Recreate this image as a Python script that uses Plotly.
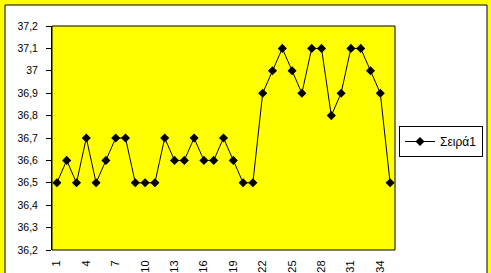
import plotly.graph_objects as go

days = list(range(1, 36))
temps = [36.5, 36.6, 36.5, 36.7, 36.5, 36.6, 36.7, 36.7, 36.5, 36.5,
         36.5, 36.7, 36.6, 36.6, 36.7, 36.6, 36.6, 36.7, 36.6, 36.5,
         36.5, 36.9, 37.0, 37.1, 37.0, 36.9, 37.1, 37.1, 36.8, 36.9,
         37.1, 37.1, 37.0, 36.9, 36.5]
series_name = "Σειρά1"
y_ticks = [36.2, 36.3, 36.4, 36.5, 36.6, 36.7, 36.8, 36.9, 37.0, 37.1, 37.2]
y_tick_text = ["36,2", "36,3", "36,4", "36,5", "36,6", "36,7", "36,8", "36,9", "37", "37,1", "37,2"]
x_label_vals = list(range(1, 36, 3))
x_label_text = [str(v) for v in x_label_vals]
x_boundaries = [i + 0.5 for i in range(0, 36)]

W, H = 491, 273
L, R, T, B = 52, 395, 26, 250
pw, ph = R - L, B - T

def px(x):
    return (x - L) / pw

def py(y):
    return (B - y) / ph

FONT = "Liberation Sans, Arial, sans-serif"

fig = go.Figure()
fig.add_trace(go.Scatter(
    x=days, y=temps, mode="lines+markers", name=series_name,
    line=dict(color="black", width=1),
    marker=dict(symbol="diamond", size=7, color="black"),
    xaxis="x2",
))

fig.update_layout(
    width=W, height=H,
    margin=dict(l=L, r=W - R, t=T, b=H - B, pad=0, autoexpand=False),
    paper_bgcolor="#FFFF00",
    plot_bgcolor="#FFFF00",
    font=dict(family=FONT, size=10, color="black"),
    showlegend=True,
    legend=dict(
        x=px(483), y=py(126), xanchor="right", yanchor="top",
        bgcolor="white", bordercolor="black", borderwidth=1,
        font=dict(size=12, family=FONT),
        itemwidth=30, tracegroupgap=0,
    ),
    xaxis=dict(
        range=[0.5, 35.5], tickmode="array", tickvals=x_boundaries,
        showticklabels=False, ticks="outside", ticklen=4, tickcolor="black",
        showline=True, linecolor="black", linewidth=1, showgrid=False, zeroline=False,
        automargin=False,
    ),
    xaxis2=dict(
        range=[0.5, 35.5], overlaying="x", side="bottom", tickmode="array",
        tickvals=x_label_vals, ticktext=x_label_text, tickangle=-90,
        ticks="outside", ticklen=5, tickcolor="rgba(0,0,0,0)",
        showline=False, showgrid=False, zeroline=False, automargin=False,
        tickfont=dict(size=11, family=FONT),
    ),
    yaxis=dict(
        range=[36.2, 37.2], tickmode="array", tickvals=y_ticks, ticktext=y_tick_text,
        ticks="outside", ticklen=5, tickcolor="black",
        showline=True, linecolor="black", linewidth=1, showgrid=False, zeroline=False,
        tickfont=dict(size=10.5, family=FONT), ticklabelstandoff=6, automargin=False,
    ),
    shapes=[
        dict(type="rect", xref="paper", yref="paper", layer="below",
             x0=px(5), x1=px(487), y0=py(285), y1=py(5),
             fillcolor="white", line=dict(color="black", width=1)),
        dict(type="rect", xref="paper", yref="paper", layer="below",
             x0=0, x1=1, y0=0, y1=1,
             fillcolor="#FFFF00", line=dict(color="black", width=1)),
    ],
)

fig.write_html("out.html")
